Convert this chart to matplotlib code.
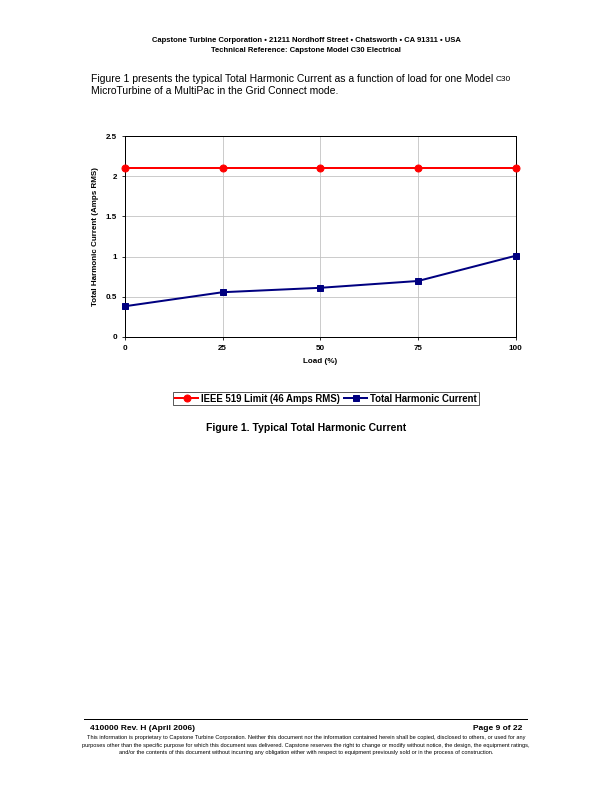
import matplotlib
matplotlib.use('Agg')
import matplotlib.pyplot as plt

plt.rcParams['font.family'] = ['Liberation Sans', 'DejaVu Sans']

load_pct = [0, 25, 50, 75, 100]
ieee_limit = [2.1, 2.1, 2.1, 2.1, 2.1]
total_harmonic = [0.38, 0.555, 0.61, 0.695, 1.01]
y_ticks = [0, 0.5, 1, 1.5, 2, 2.5]
y_tick_labels = ['0', '0.5', '1', '1.5', '2', '2.5']

header_1 = 'Capstone Turbine Corporation \u2022 21211 Nordhoff Street \u2022 Chatsworth \u2022 CA 91311 \u2022 USA'
header_2 = 'Technical Reference: Capstone Model C30 Electrical'
body_1 = 'Figure 1 presents the typical Total Harmonic Current as a function of load for one Model '
body_2 = 'MicroTurbine of a MultiPac in the Grid Connect mode.'
caption = 'Figure 1. Typical Total Harmonic Current'
footer_left = '410000 Rev. H (April 2006)'
footer_right = 'Page 9 of 22'
fine_print = [
    'This information is proprietary to Capstone Turbine Corporation. Neither this document nor the information contained herein shall be copied, disclosed to others, or used for any',
    'purposes other than the specific purpose for which this document was delivered. Capstone reserves the right to change or modify without notice, the design, the equipment ratings,',
    'and/or the contents of this document without incurring any obligation either with respect to equipment previously sold or in the process of construction.',
]

W, H = 612, 792
fig = plt.figure(figsize=(8.5, 11), dpi=72)


def fx(px):
    return px / W


def fy(py):
    return 1 - py / H


# page header
fig.text(0.5, fy(41), header_1, ha='center', va='center', fontsize=7.6, fontweight='bold')
fig.text(0.5, fy(51), header_2, ha='center', va='center', fontsize=7.6, fontweight='bold')

# body paragraph
t1 = fig.text(fx(91), fy(79), body_1, ha='left', va='center', fontsize=10.4)
fig.text(fx(91), fy(91), body_2, ha='left', va='center', fontsize=10.4)
renderer = fig.canvas.get_renderer()
bb = t1.get_window_extent(renderer=renderer)
fig.text(bb.x1 / W, fy(79.5), 'C30', ha='left', va='center', fontsize=8.3)

# chart
ax = fig.add_axes([fx(125), fy(336.7), fx(390.7), 200.4 / H])
ax.plot(load_pct, ieee_limit, color='#FF0000', linewidth=2, marker='o',
        markersize=7, label='IEEE 519 Limit (46 Amps RMS)', zorder=3, clip_on=False)
ax.plot(load_pct, total_harmonic, color='#000080', linewidth=2, marker='s',
        markersize=6, label='Total Harmonic Current', zorder=3, clip_on=False)

ax.set_xlim(0, 100)
ax.set_ylim(0, 2.5)
ax.set_xticks(load_pct)
ax.set_xticklabels([str(v) for v in load_pct])
ax.set_yticks(y_ticks)
ax.set_yticklabels(y_tick_labels)
ax.grid(True, color='#C0C0C0', linewidth=0.8)
ax.set_axisbelow(True)
for s in ax.spines.values():
    s.set_color('black')
    s.set_linewidth(1)
ax.tick_params(direction='out', length=3, width=0.8, labelsize=8, pad=5)
for lab in ax.get_xticklabels() + ax.get_yticklabels():
    lab.set_fontweight('bold')
ax.set_xlabel('Load (%)', fontsize=8, fontweight='bold', labelpad=6)
ax.set_ylabel('Total Harmonic Current (Amps RMS)', fontsize=8, fontweight='bold', labelpad=7)

leg = fig.legend(loc='center', bbox_to_anchor=(fx(326), fy(398.5)), ncol=2,
                 prop={'weight': 'bold', 'size': 9.6},
                 frameon=True, fancybox=False, handlelength=2.4,
                 handletextpad=0.3, columnspacing=0.4, borderpad=0.2,
                 borderaxespad=0)
leg.get_frame().set_edgecolor('black')
leg.get_frame().set_linewidth(0.8)

fig.text(0.5, fy(428), caption, ha='center', va='center', fontsize=10.4, fontweight='bold')

# footer
fig.add_artist(plt.Line2D([fx(84), fx(527)], [fy(719), fy(719)], color='black', linewidth=1))
fig.text(fx(90), fy(728), footer_left, ha='left', va='center', fontsize=8.4, fontweight='bold')
fig.text(fx(522), fy(728), footer_right, ha='right', va='center', fontsize=8.4, fontweight='bold')
for i, line in enumerate(fine_print):
    fig.text(0.5, fy(737.7 + 7.5 * i), line, ha='center', va='center', fontsize=5.6)

plt.savefig('out.png', dpi=72)
plt.close()
